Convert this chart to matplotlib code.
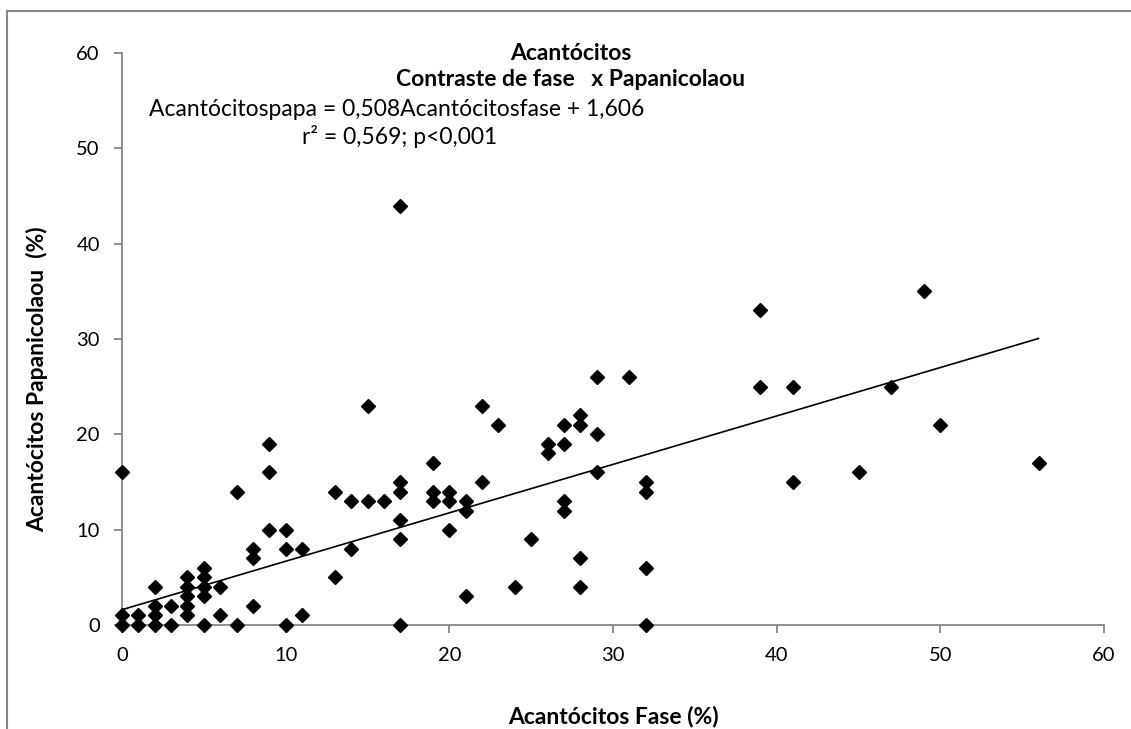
import matplotlib
matplotlib.use('Agg')
import matplotlib.pyplot as plt
from matplotlib.lines import Line2D

# dados (Acantócitos fase x papanicolaou)
fase = [0, 0, 0, 1, 1, 2, 2, 2, 2, 3, 3,
        4, 4, 4, 4, 4, 5, 5, 5, 5, 5, 6, 6, 7, 7,
        8, 8, 8, 9, 9, 9, 10, 10, 10, 11, 11, 13, 13, 14, 14,
        15, 15, 16, 17, 17, 17, 17, 17, 17, 19, 19, 19,
        20, 20, 20, 21, 21, 21, 22, 22, 23, 24, 25, 26, 26,
        27, 27, 27, 27, 28, 28, 28, 28, 29, 29, 29, 31,
        32, 32, 32, 32, 39, 39, 41, 41, 45, 47, 49, 50, 56]
papa = [0, 1, 16, 0, 1, 0, 1, 2, 4, 0, 2,
        1, 2, 3, 4, 5, 0, 3, 4, 5, 6, 1, 4, 0, 14,
        2, 7, 8, 10, 16, 19, 0, 8, 10, 1, 8, 5, 14, 8, 13,
        13, 23, 13, 0, 9, 11, 14, 15, 44, 13, 14, 17,
        10, 13, 14, 3, 12, 13, 15, 23, 21, 4, 9, 18, 19,
        12, 13, 19, 21, 4, 7, 21, 22, 16, 20, 26, 26,
        0, 6, 14, 15, 25, 33, 15, 25, 16, 25, 35, 21, 17]

# reta de regressão indicada no gráfico
inclinacao = 0.508
intercepto = 1.606
x_reta = [0, 56]
y_reta = [intercepto + inclinacao * v for v in x_reta]

plt.rcParams['font.family'] = ['Lato', 'DejaVu Sans']
cinza = '#868686'

fig = plt.figure(figsize=(11.31, 7.29), dpi=100)
ax = fig.add_axes([122 / 1131, 1 - 625 / 729, 982 / 1131, 572 / 729])

ax.plot(fase, papa, linestyle='none', marker='D', markersize=6.8,
        color='black', clip_on=False, zorder=3)
ax.plot(x_reta, y_reta, color='black', linewidth=1.2, zorder=2)

ax.set_xlim(0, 60)
ax.set_ylim(0, 60)
ax.set_xticks(range(0, 61, 10))
ax.set_yticks(range(0, 61, 10))
for s in ['top', 'right']:
    ax.spines[s].set_visible(False)
for s in ['left', 'bottom']:
    ax.spines[s].set_color(cinza)
    ax.spines[s].set_linewidth(1.3)
ax.tick_params(direction='out', length=6, width=1.3, color=cinza,
               labelsize=14.5, pad=10)

ax.set_xlabel('Acantócitos Fase (%)', fontsize=16.5, fontweight='bold', labelpad=30)
ax.set_ylabel('Acantócitos Papanicolaou  (%)', fontsize=16.5, fontweight='bold')
ax.yaxis.set_label_coords(-0.075, 0.43)

# títulos e equação
fig.text(571 / 1131, 1 - 53 / 729, 'Acantócitos', ha='center', va='center',
         fontsize=16.5, fontweight='bold')
fig.text(571 / 1131, 1 - 80 / 729, 'Contraste de fase   x Papanicolaou', ha='center',
         va='center', fontsize=16.5, fontweight='bold')
fig.text(397 / 1131, 1 - 110 / 729, 'Acantócitospapa = 0,508Acantócitosfase + 1,606',
         ha='center', va='center', fontsize=16.5)
fig.text(400 / 1131, 1 - 137 / 729, 'r² = 0,569; p<0,001', ha='center', va='center',
         fontsize=16.5)

# moldura cortada do gráfico original
fig.add_artist(Line2D([7 / 1131, 7 / 1131], [0, 1 - 11 / 729], color=cinza, linewidth=1.5))
fig.add_artist(Line2D([7 / 1131, 1], [1 - 11 / 729, 1 - 11 / 729], color=cinza, linewidth=1.5))

fig.savefig('out.png', dpi=100)
